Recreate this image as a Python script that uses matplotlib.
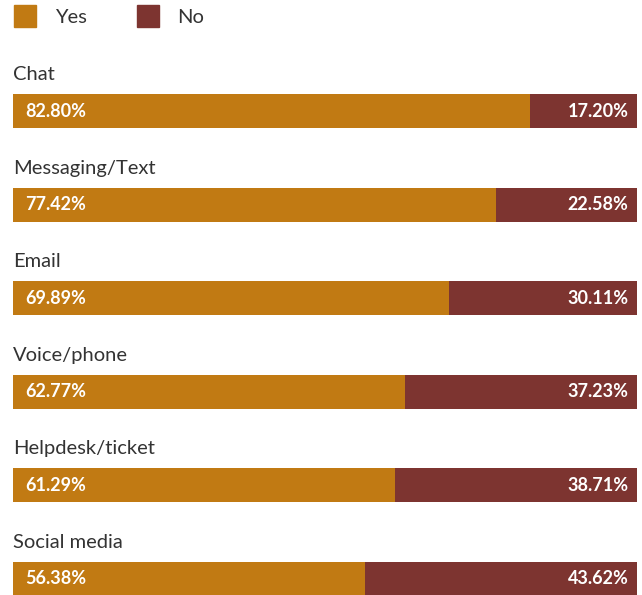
import matplotlib.pyplot as plt
from matplotlib.lines import Line2D

categories = ['Chat', 'Messaging/Text', 'Email', 'Voice/phone', 'Helpdesk/ticket', 'Social media']
yes_pct = [82.80, 77.42, 69.89, 62.77, 61.29, 56.38]
no_pct = [17.20, 22.58, 30.11, 37.23, 38.71, 43.62]

yes_color = '#C17A13'
no_color = '#7D3430'
text_color = '#333333'

plt.rcParams['font.family'] = ['Lato', 'DejaVu Sans']

fig = plt.figure(figsize=(6.42, 5.95), dpi=100)
ax = fig.add_axes([13 / 642, 0, 624 / 642, 1])

y = list(range(len(categories)))
bar_h = 0.365
ax.barh(y, yes_pct, height=bar_h, color=yes_color)
ax.barh(y, no_pct, left=yes_pct, height=bar_h, color=no_color)

for i, cat in enumerate(categories):
    ax.text(0, i - 0.39, cat, ha='left', va='center', fontsize=14.5, color=text_color)
    ax.annotate(f'{yes_pct[i]:.2f}%', (0, i), xytext=(8.5, 0), textcoords='offset points',
                ha='left', va='center', fontsize=13, fontweight='bold', color='white')
    ax.annotate(f'{no_pct[i]:.2f}%', (yes_pct[i] + no_pct[i], i), xytext=(-6, 0),
                textcoords='offset points', ha='right', va='center', fontsize=13,
                fontweight='bold', color='white')

ax.set_xlim(0, 100)
ax.set_ylim(5.171, -1.186)
ax.axis('off')

handles = [Line2D([], [], marker='s', linestyle='none', markersize=16.5, color=yes_color),
           Line2D([], [], marker='s', linestyle='none', markersize=16.5, color=no_color)]
fig.legend(handles, ['Yes', 'No'], loc='upper left', bbox_to_anchor=(14 / 642, 1 - 9 / 595),
           ncol=2, frameon=False, fontsize=14.5, handlelength=1.14, handletextpad=0.9,
           columnspacing=2.45, borderpad=0, borderaxespad=0, labelcolor=text_color)

fig.savefig('out.png', dpi=100)
